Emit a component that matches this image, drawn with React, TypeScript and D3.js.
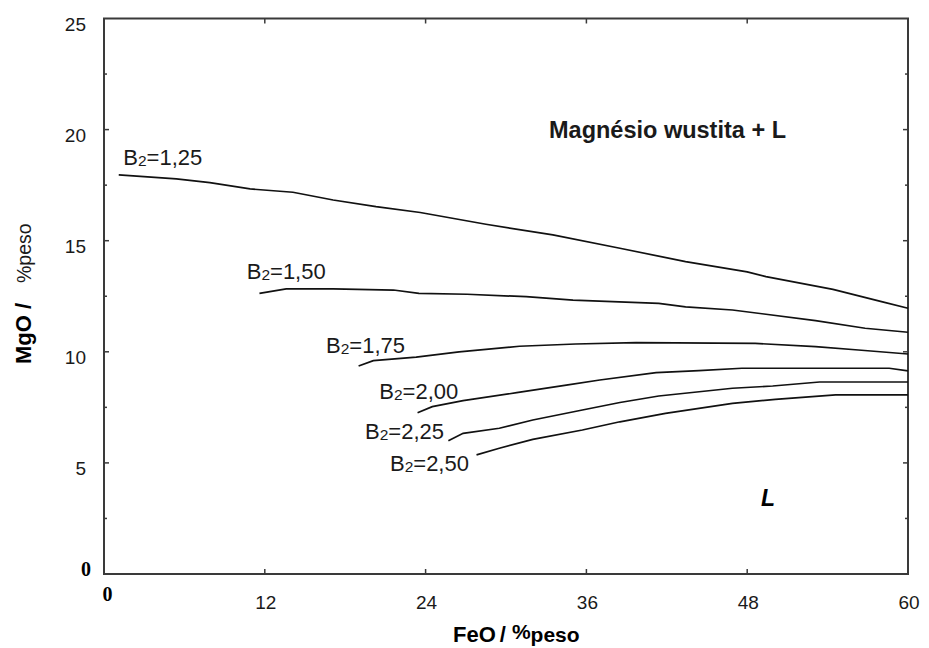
import React from 'react';
import * as d3 from 'd3';

// FeO (%peso), MgO (%peso)
const b125 = [[1.1, 17.96], [5.4, 17.78], [7.9, 17.61], [10.9, 17.33], [14.1, 17.18], [17.1, 16.83], [20.3, 16.53], [23.6, 16.27], [28.5, 15.74], [33.5, 15.26], [38.5, 14.66], [43.4, 14.06], [48.0, 13.6], [49.4, 13.38], [54.4, 12.81], [58.1, 12.25], [60, 11.96]];
const b150 = [[11.6, 12.63], [13.6, 12.83], [17.1, 12.83], [21.6, 12.78], [23.5, 12.63], [27.1, 12.59], [31.5, 12.48], [35, 12.33], [41.4, 12.18], [43.4, 12.02], [46.9, 11.88], [49.4, 11.69], [53.1, 11.4], [56.8, 11.06], [60, 10.88]];
const b175 = [[19, 9.36], [20.1, 9.6], [23.3, 9.76], [26.5, 10.0], [31, 10.25], [35.2, 10.35], [39.7, 10.41], [48.6, 10.38], [53.1, 10.23], [56.3, 10.08], [60, 9.9]];
const b200 = [[23.4, 7.26], [24.5, 7.53], [26.8, 7.8], [30.8, 8.16], [34.5, 8.5], [37, 8.73], [41.2, 9.06], [44.4, 9.15], [47.6, 9.26], [58.6, 9.26], [60, 9.14]];
const b225 = [[25.7, 6.0], [26.8, 6.33], [29.5, 6.56], [32, 6.93], [35.7, 7.38], [38.5, 7.72], [41.4, 8.01], [46.9, 8.36], [49.9, 8.46], [53.4, 8.64], [60, 8.64]];
const b250 = [[27.8, 5.36], [29.5, 5.66], [32, 6.06], [35.7, 6.48], [38.5, 6.85], [41.9, 7.23], [46.9, 7.68], [50.1, 7.86], [54.6, 8.06], [60, 8.06]];

const series = [b125, b150, b175, b200, b225, b250];
const basicity = ['1,25', '1,50', '1,75', '2,00', '2,25', '2,50'];

const xTicks = [0, 12, 24, 36, 48, 60];
const yTicks = [0, 5, 10, 15, 20, 25];
const yMinor = [2.5, 7.5, 12.5, 17.5, 22.5];

const W = 929;
const H = 648;

export default function App() {
  const x = d3.scaleLinear().domain([0, 60]).range([104, 908]);
  const y = d3.scaleLinear().domain([0, 25]).range([574, 18.5]);
  const line = d3.line<number[]>().x(d => x(d[0])).y(d => y(d[1]));

  // label anchors (data units), start of "B2=..." text baseline
  const labelAt = [[1.44, 18.41], [10.65, 13.28], [16.57, 9.96], [20.54, 7.86], [19.48, 6.06], [21.34, 4.65]];

  const ink = '#1a1a1a';
  const axis = '#3a3a3a';
  const font = '"Liberation Sans", Arial, sans-serif';

  return (
    <svg width={W} height={H} style={{ position: 'absolute', left: 0, top: 0, background: '#fff' }} fontFamily={font}>
      <rect x={0} y={0} width={W} height={H} fill="#fff" />

      {/* frame */}
      <rect x={x(0)} y={y(25)} width={x(60) - x(0)} height={y(0) - y(25)} fill="none" stroke={axis} strokeWidth={2} />

      {/* ticks, all pointing inward */}
      {xTicks.slice(1, -1).map(t => (
        <g key={'xt' + t} stroke={axis} strokeWidth={1.5}>
          <line x1={x(t)} x2={x(t)} y1={y(0)} y2={y(0) - 5} />
          <line x1={x(t)} x2={x(t)} y1={y(25)} y2={y(25) + 5} />
        </g>
      ))}
      {yTicks.slice(1, -1).map(t => (
        <g key={'yt' + t} stroke={axis} strokeWidth={1.5}>
          <line x1={x(0)} x2={x(0) + 5} y1={y(t)} y2={y(t)} />
          <line x1={x(60)} x2={x(60) - 5} y1={y(t)} y2={y(t)} />
        </g>
      ))}
      {yMinor.map(t => (
        <g key={'ym' + t} stroke={axis} strokeWidth={1.5}>
          <line x1={x(0)} x2={x(0) + 3} y1={y(t)} y2={y(t)} />
          <line x1={x(60)} x2={x(60) - 3} y1={y(t)} y2={y(t)} />
        </g>
      ))}

      {/* tick labels */}
      {xTicks.slice(1).map(t => (
        <text key={'xl' + t} x={x(t) + 1} y={609} textAnchor="middle" fontSize={19} fill={ink}>{t}</text>
      ))}
      {yTicks.slice(1).map(t => (
        <text key={'yl' + t} x={86} y={y(t) + 12} textAnchor="end" fontSize={19} fill={ink}>{t}</text>
      ))}
      <text x={86} y={576} textAnchor="middle" fontSize={20} fontWeight="bold" fontFamily='"Liberation Serif", serif' fill="#000">0</text>
      <text x={107.5} y={601} textAnchor="middle" fontSize={20} fontWeight="bold" fontFamily='"Liberation Serif", serif' fill="#000">0</text>

      {/* curves */}
      {series.map((s, i) => (
        <path key={'c' + i} d={line(s) || ''} fill="none" stroke="#111" strokeWidth={1.7} />
      ))}

      {/* curve labels */}
      {basicity.map((b, i) => (
        <text key={'bl' + i} x={x(labelAt[i][0])} y={y(labelAt[i][1])} fontSize={22} fill={ink}>
          B<tspan fontSize={15.5} dy={1}>2</tspan><tspan dy={-1}>={b}</tspan>
        </text>
      ))}

      {/* field labels */}
      <text x={549} y={137.5} fontSize={23.5} fontWeight="bold" fill={ink}>Magnésio wustita + L</text>
      <text x={761} y={506} fontSize={23} fontWeight="bold" fontStyle="italic" fill="#000">L</text>

      {/* axis titles */}
      <text x={453} y={642} fontSize={22} fontWeight="bold" fill="#000">
        FeO<tspan dx={4}>/</tspan><tspan dx={6} dy={-3} fontSize={21}>%</tspan><tspan dy={3} fontSize={21}>peso</tspan>
      </text>
      <g transform="translate(31,364) rotate(-90)">
        <text x={0} y={0} fontSize={22} fontWeight="bold" fill="#000">MgO /</text>
        <text x={81} y={0} fontSize={19.5} fill={ink}>%peso</text>
      </g>
    </svg>
  );
}
